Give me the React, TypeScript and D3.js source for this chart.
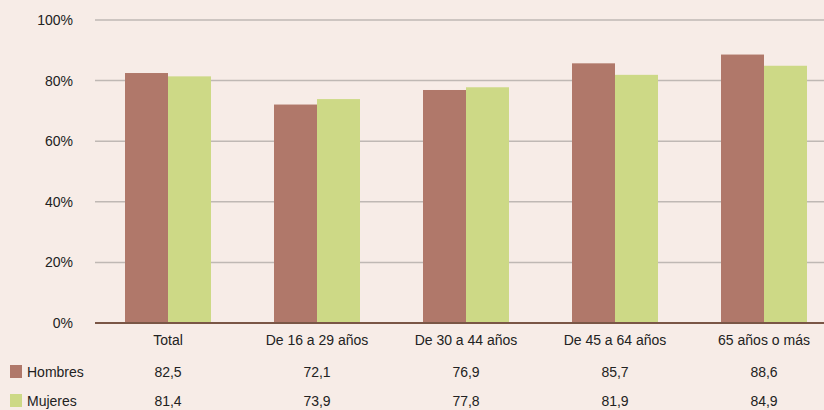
import React from "react";
import * as d3 from "d3";

const categories = ["Total", "De 16 a 29 años", "De 30 a 44 años", "De 45 a 64 años", "65 años o más"];
const hombres = [82.5, 72.1, 76.9, 85.7, 88.6];
const mujeres = [81.4, 73.9, 77.8, 81.9, 84.9];
const yTicks = [0, 20, 40, 60, 80, 100];
const seriesNames = ["Hombres", "Mujeres"];
const colors = ["#b0786a", "#cdd986"];

const W = 824, H = 410;
const left = 93.5, right = 838.5, top = 20, bottom = 323;

export default function App() {
  const x = d3.scaleBand<string>().domain(categories).range([left, right]).paddingInner(0).paddingOuter(0);
  const y = d3.scaleLinear().domain([0, 100]).range([bottom, top]);
  const barW = 43;
  const font = "'Liberation Sans', Arial, sans-serif";
  const series = [hombres, mujeres];
  const rowY = [372, 401];
  return (
    <div style={{ position: "absolute", left: 0, top: 0 }}>
      <svg width={W} height={H} style={{ display: "block", background: "#f7ece7" }} fontFamily={font}>
        <rect x={0} y={0} width={W} height={H} fill="#f7ece7" />
        {yTicks.map((t) => (
          <g key={t}>
            {t > 0 && <line x1={95} x2={W} y1={y(t)} y2={y(t)} stroke="#bfb8b4" strokeWidth={1.5} />}
            <text x={73} y={y(t)} dy="0.35em" textAnchor="end" fontSize={14} fill="#222">{t}%</text>
          </g>
        ))}
        {categories.map((c, i) => {
          const cx = (x(c) as number) + x.bandwidth() / 2;
          return (
            <g key={c}>
              {series.map((s, k) => (
                <rect key={k} x={k === 0 ? cx - barW : cx} y={y(s[i])} width={barW} height={bottom - y(s[i])} fill={colors[k]} />
              ))}
              <text x={cx} y={340} dy="0.35em" textAnchor="middle" fontSize={14} fill="#222">{c}</text>
              {series.map((s, k) => (
                <text key={"v" + k} x={cx} y={rowY[k]} dy="0.35em" textAnchor="middle" fontSize={14} fill="#222">
                  {d3.format(".1f")(s[i]).replace(".", ",")}
                </text>
              ))}
            </g>
          );
        })}
        <line x1={95} x2={W} y1={bottom} y2={bottom} stroke="#7a5646" strokeWidth={2} />
        {seriesNames.map((n, k) => (
          <g key={n}>
            <rect x={10} y={rowY[k] - 7} width={12} height={13} fill={colors[k]} />
            <text x={27} y={rowY[k]} dy="0.35em" fontSize={14} fill="#222">{n}</text>
          </g>
        ))}
      </svg>
    </div>
  );
}
